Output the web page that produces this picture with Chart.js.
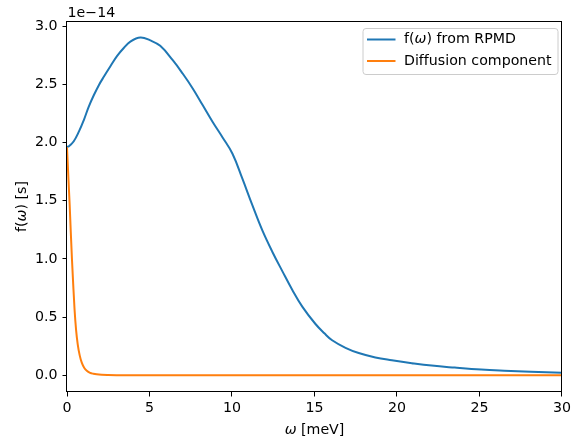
<!DOCTYPE html>
<html><head><meta charset="utf-8">
<script src="https://cdn.jsdelivr.net/npm/chart.js@4/dist/chart.umd.min.js"></script>
<style>html,body{margin:0;padding:0;background:#fff;}</style>
</head><body>
<canvas id="c" width="574" height="444"></canvas>
<script>
// ---- data (values in units of 1e-14 s) ----
const rpmdX = [0, 0.1, 0.4, 0.72, 1.02, 1.32, 1.63, 1.93, 2.23, 2.64, 3.04, 3.44, 3.84, 4.45, 5.05, 5.65, 6.41, 7.01, 7.62, 8.22, 8.82, 9.43, 10.03, 10.63, 11.24, 11.84, 12.45, 13.05, 13.65, 14.26, 15.06, 15.6, 16.07, 16.88, 17.68, 18.69, 19.69, 20.9, 22.1, 23.5, 25.1, 26.5, 28.1, 30];
const rpmdY = [1.965, 1.967, 2.01, 2.095, 2.195, 2.31, 2.41, 2.495, 2.567, 2.66, 2.747, 2.815, 2.87, 2.905, 2.88, 2.833, 2.71, 2.595, 2.467, 2.324, 2.18, 2.045, 1.905, 1.69, 1.46, 1.245, 1.06, 0.895, 0.735, 0.59, 0.44, 0.36, 0.30, 0.235, 0.19, 0.152, 0.128, 0.103, 0.082, 0.065, 0.048, 0.038, 0.029, 0.021];
const diffX = [0, 0.08, 0.16, 0.23, 0.3, 0.38, 0.46, 0.55, 0.65, 0.77, 0.9, 1.05, 1.2, 1.4, 1.6, 1.8, 2.1, 2.5, 3, 5, 10, 15, 20, 25, 30];
const diffY = [1.96, 1.71, 1.47, 1.23, 1.00, 0.77, 0.56, 0.39, 0.265, 0.17, 0.105, 0.062, 0.038, 0.02, 0.012, 0.007, 0.003, 0.001, 0, 0, 0, 0, 0, 0, 0];
const xTicks = [0, 5, 10, 15, 20, 25, 30];
const yTicks = [0, 0.5, 1.0, 1.5, 2.0, 2.5, 3.0];
const seriesNames = ['f(\u03C9) from RPMD', 'Diffusion component'];
const seriesColors = ['#1f77b4', '#ff7f0e'];
const offsetLabel = '1e\u221214';

const FONT = 'DejaVu Sans';
const FS = 14.2;

function pts(xs, ys) { return xs.map((x, i) => ({x: x, y: ys[i]})); }

const decor = {
  id: 'decor',
  afterDatasetsDraw(chart) {
    const ctx = chart.ctx, a = chart.chartArea;
    ctx.save();
    // frame
    ctx.strokeStyle = '#000'; ctx.lineWidth = 1;
    ctx.strokeRect(Math.round(a.left) - 0.5, Math.round(a.top) + 0.5, Math.round(a.right - a.left), Math.round(a.bottom - a.top) - 1);
    // legend
    const lx = 363, ly = 28.5, lw = 195, lh = 46, r = 3;
    ctx.beginPath();
    ctx.moveTo(lx + r, ly); ctx.lineTo(lx + lw - r, ly); ctx.arcTo(lx + lw, ly, lx + lw, ly + r, r);
    ctx.lineTo(lx + lw, ly + lh - r); ctx.arcTo(lx + lw, ly + lh, lx + lw - r, ly + lh, r);
    ctx.lineTo(lx + r, ly + lh); ctx.arcTo(lx, ly + lh, lx, ly + lh - r, r);
    ctx.lineTo(lx, ly + r); ctx.arcTo(lx, ly, lx + r, ly, r); ctx.closePath();
    ctx.fillStyle = 'rgba(255,255,255,0.8)'; ctx.fill();
    ctx.strokeStyle = '#cccccc'; ctx.lineWidth = 1; ctx.stroke();
    const rows = [39.5, 61];
    ctx.font = FS + 'px "' + FONT + '"';
    ctx.textBaseline = 'middle'; ctx.textAlign = 'left';
    rows.forEach((yy, i) => {
      ctx.strokeStyle = seriesColors[i]; ctx.lineWidth = 2;
      ctx.beginPath(); ctx.moveTo(367, yy); ctx.lineTo(395.5, yy); ctx.stroke();
      ctx.fillStyle = '#000';
      drawMixed(ctx, seriesNames[i], 404, yy);
    });
    // offset text
    ctx.textBaseline = 'alphabetic';
    ctx.fillStyle = '#000';
    ctx.font = FS + 'px "' + FONT + '"';
    ctx.fillText(offsetLabel, 67.5, 17);
    // x title
    const xt = '\u03C9 [meV]';
    const w = measureMixed(ctx, xt);
    drawMixed(ctx, xt, (a.left + a.right) / 2 - w / 2, 434);
    // y title
    ctx.save();
    ctx.translate(26, (a.top + a.bottom) / 2);
    ctx.rotate(-Math.PI / 2);
    const yt = 'f(\u03C9) [s]';
    const wy = measureMixed(ctx, yt);
    drawMixed(ctx, yt, -wy / 2, 0);
    ctx.restore();
    ctx.restore();
  }
};
function measureMixed(ctx, s) {
  let w = 0;
  for (const ch of s) {
    ctx.font = (ch === '\u03C9' ? 'oblique ' : '') + FS + 'px "' + FONT + '"';
    w += ctx.measureText(ch).width;
  }
  ctx.font = FS + 'px "' + FONT + '"';
  return w;
}
function drawMixed(ctx, s, x, y) {
  let cx = x;
  for (const ch of s) {
    ctx.font = (ch === '\u03C9' ? 'oblique ' : '') + FS + 'px "' + FONT + '"';
    ctx.fillText(ch, cx, y);
    cx += ctx.measureText(ch).width;
  }
  ctx.font = FS + 'px "' + FONT + '"';
}

new Chart(document.getElementById('c'), {
  type: 'line',
  data: {
    datasets: [
      {label: seriesNames[0], data: pts(rpmdX, rpmdY), borderColor: seriesColors[0], borderWidth: 2, pointRadius: 0, fill: false, tension: 0.4, order: 1},
      {label: seriesNames[1], data: pts(diffX, diffY), borderColor: seriesColors[1], borderWidth: 2, pointRadius: 0, fill: false, cubicInterpolationMode: 'monotone', order: 0}
    ]
  },
  options: {
    responsive: false, animation: false, devicePixelRatio: 1,
    layout: {padding: {left: 0, right: 10, top: 21, bottom: 0}},
    plugins: {legend: {display: false}, tooltip: {enabled: false}},
    scales: {
      x: {
        type: 'linear', min: 0, max: 30,
        afterBuildTicks: s => { s.ticks = xTicks.map(v => ({value: v})); },
        afterFit: s => { s.height = 52; },
        border: {display: false},
        grid: {display: true, drawOnChartArea: false, drawTicks: true, tickLength: 4.5, color: '#000', lineWidth: 1},
        ticks: {color: '#000', font: {family: FONT, size: FS}, padding: 3, maxRotation: 0, autoSkip: false, callback: v => String(v)}
      },
      y: {
        type: 'linear', min: -0.145, max: 3.047,
        afterBuildTicks: s => { s.ticks = yTicks.map(v => ({value: v})); },
        afterFit: s => { s.width = 67; },
        border: {display: false},
        grid: {display: true, drawOnChartArea: false, drawTicks: true, tickLength: 4.5, color: '#000', lineWidth: 1},
        ticks: {color: '#000', font: {family: FONT, size: FS}, padding: 5, autoSkip: false, callback: v => v.toFixed(1)}
      }
    }
  },
  plugins: [decor]
});
</script>
</body></html>
